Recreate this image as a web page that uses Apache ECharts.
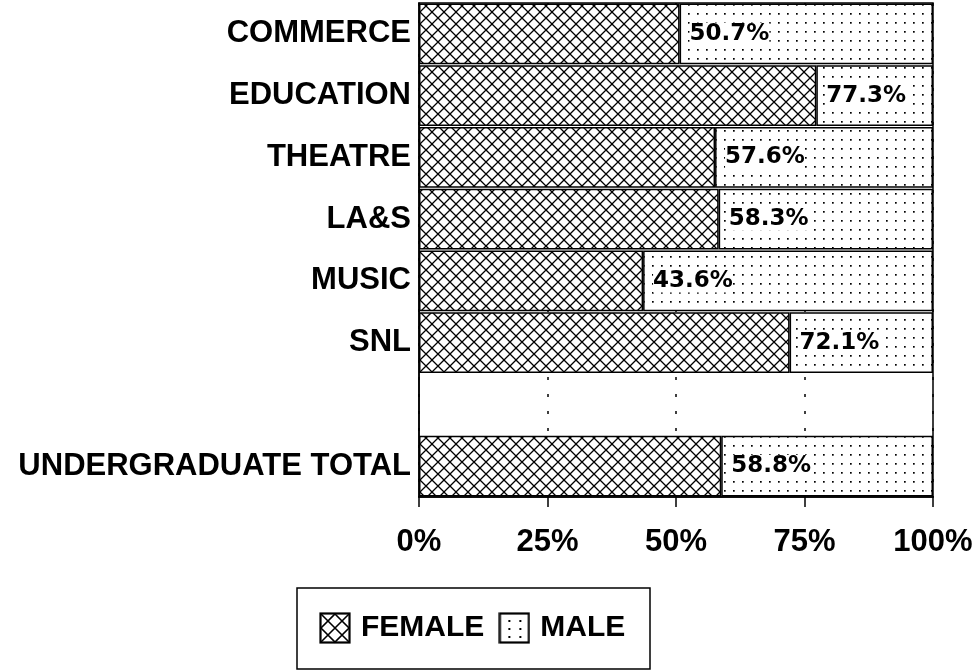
<!DOCTYPE html>
<html lang="en">
<head>
    <meta charset="UTF-8">
    <title>Undergraduate enrolment by sex</title>
    <script src="https://cdn.jsdelivr.net/npm/echarts@6/dist/echarts.min.js"></script>
    <style>
        body { margin: 0; background: #fff; }
    </style>
</head>
<body>
<div id="main" style="height:671px;width:976px"></div>

<script type="text/javascript">
    // data
    var categories = ['COMMERCE', 'EDUCATION', 'THEATRE', 'LA&S', 'MUSIC', 'SNL', '', 'UNDERGRADUATE TOTAL'];
    var female = [50.7, 77.3, 57.6, 58.3, 43.6, 72.1, null, 58.8];
    var male = [49.3, 22.7, 42.4, 41.7, 56.4, 27.9, null, 41.2];
    var ticks = [0, 25, 50, 75, 100];

    var FONT = '"Liberation Sans", Arial, sans-serif';

    // cross hatch tile
    function hatchTile() {
        var c = document.createElement('canvas');
        c.width = 12; c.height = 12;
        var g = c.getContext('2d');
        g.fillStyle = '#fff';
        g.fillRect(0, 0, 12, 12);
        g.strokeStyle = '#000';
        g.lineWidth = 1.3;
        g.beginPath();
        g.moveTo(0, 0); g.lineTo(12, 12);
        g.moveTo(12, 0); g.lineTo(0, 12);
        g.stroke();
        return c;
    }
    // dotted tile
    function dotTile() {
        var c = document.createElement('canvas');
        c.width = 9; c.height = 9;
        var g = c.getContext('2d');
        g.fillStyle = '#fff';
        g.fillRect(0, 0, 9, 9);
        g.fillStyle = '#000';
        g.fillRect(4, 4, 1.7, 1.7);
        return c;
    }
    // legend icons with a frame (bigger cells so the pattern reads like the original)
    function iconUrl(kind) {
        var c = document.createElement('canvas');
        c.width = 32; c.height = 32;
        var g = c.getContext('2d');
        g.fillStyle = '#fff';
        g.fillRect(0, 0, 32, 32);
        g.fillStyle = '#000';
        g.strokeStyle = '#000';
        if (kind === 'hatch') {
            g.lineWidth = 1.6;
            g.beginPath();
            g.moveTo(2, 2); g.lineTo(30, 30);
            g.moveTo(30, 2); g.lineTo(2, 30);
            g.moveTo(16, 2); g.lineTo(30, 16); g.lineTo(16, 30); g.lineTo(2, 16); g.closePath();
            g.stroke();
        } else {
            [10, 21].forEach(function (x) {
                [8, 16, 24].forEach(function (y) { g.fillRect(x, y, 2, 2); });
            });
        }
        g.lineWidth = 2.2;
        g.strokeRect(1.5, 1.5, 29, 29);
        return 'image://' + c.toDataURL();
    }

    var hatch = hatchTile();
    var dots = dotTile();

    var myChart = echarts.init(document.getElementById('main'));
    myChart.setOption({
        backgroundColor: '#fff',
        animation: false,
        grid: {
            left: 419, right: 43, top: 3, bottom: 174,
            show: true, borderColor: '#000', borderWidth: 1.5, backgroundColor: 'transparent'
        },
        legend: {
            left: 314,
            top: 607,
            itemWidth: 32,
            itemHeight: 32,
            itemGap: 14,
            textStyle: {
                fontFamily: FONT, fontWeight: 'bold', fontSize: 30, color: '#000',
                padding: [0, 0, 0, 5]
            },
            data: [
                { name: 'FEMALE', icon: iconUrl('hatch') },
                { name: 'MALE', icon: iconUrl('dots') }
            ]
        },
        graphic: [{
            type: 'rect',
            shape: { x: 297, y: 588, width: 353, height: 81 },
            style: { fill: 'none', stroke: '#000', lineWidth: 1.5 }
        }],
        xAxis: {
            type: 'value',
            min: 0,
            max: 100,
            interval: 25,
            axisLine: { show: true, lineStyle: { color: '#000', width: 1.5 } },
            axisTick: { show: true, length: 10, lineStyle: { color: '#000', width: 1.5 } },
            axisLabel: {
                margin: 30,
                formatter: '{value}%',
                fontFamily: FONT, fontWeight: 'bold', fontSize: 31, color: '#000'
            },
            splitLine: { show: true, lineStyle: { color: '#000', width: 1.5, type: [3, 14] } }
        },
        yAxis: {
            type: 'category',
            inverse: true,
            data: categories,
            axisLine: { show: true, lineStyle: { color: '#000', width: 1.5 } },
            axisTick: { show: false },
            axisLabel: {
                margin: 8,
                fontFamily: FONT, fontWeight: 'bold', fontSize: 31, color: '#000'
            }
        },
        series: [
            {
                name: 'FEMALE',
                type: 'bar',
                stack: 'all',
                barCategoryGap: '2%',
                data: female,
                itemStyle: { color: { image: hatch, repeat: 'repeat' }, borderColor: '#000', borderWidth: 1.5 },
                label: {
                    show: true,
                    position: 'right',
                    distance: 10,
                    formatter: function (p) { return p.value.toFixed(1) + '%'; },
                    fontFamily: '"DejaVu Sans", sans-serif',
                    fontWeight: 'bold',
                    fontSize: 23,
                    color: '#000',
                    backgroundColor: '#fff'
                }
            },
            {
                name: 'MALE',
                type: 'bar',
                stack: 'all',
                barCategoryGap: '2%',
                data: male,
                itemStyle: { color: { image: dots, repeat: 'repeat' }, borderColor: '#000', borderWidth: 1.5 }
            }
        ]
    });
</script>
</body>
</html>
